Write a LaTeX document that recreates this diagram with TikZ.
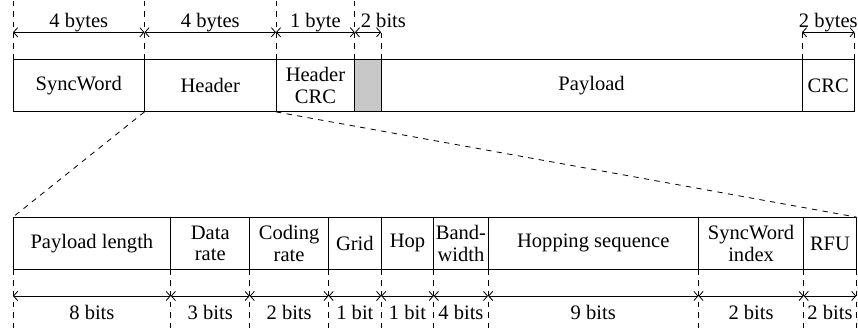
\documentclass[tikz,border=0pt]{standalone}
\usepackage{fontspec}
\setmainfont{Liberation Serif}
\usetikzlibrary{
	arrows.meta,
	positioning
}
\tikzset{
	x=0.9cm,
	y=0.9cm,
	field/.style={
		draw,
		outer sep=0pt,
		inner sep=1pt,
		minimum height=0.9cm,
		align=center,
		font=\fontsize{10}{10.5}\selectfont
	},
	unitw/.style={minimum width=#1*0.9cm},
	guide/.style={dashed,dash pattern=on 2.6pt off 2.6pt},
	dim/.style={
		{Straight Barb[length=2pt,width=4.5pt]}-{Straight Barb[length=2pt,width=4.5pt]}
	},
	dimlabel/.style={text height=1.5ex,text depth=.25ex,inner sep=1.2pt},
	dimbelow/.style={text height=1.5ex,text depth=.25ex,inner sep=4.5pt}
}
\begin{document}
\begin{tikzpicture}
	\useasboundingbox (-0.247,1.127) rectangle (16.065,-5.165);

	% packet
	\node [field,unitw=2.5,anchor=north west] (sw)  at (0,0) {SyncWord};
	\node [field,unitw=2.5,right=0pt of sw]   (hd)  {Header};
	\node [field,unitw=1.5,right=0pt of hd]   (hc)  {Header\\CRC};
	\node [field,unitw=0.5,right=0pt of hc,fill={rgb,255:red,200;green,200;blue,200}] (pad) {};
	\node [field,unitw=8,right=0pt of pad]    (pl)  {Payload};
	\node [field,unitw=1,right=0pt of pl]     (crc) {CRC};

	% header fields
	\node [field,unitw=3,anchor=north west] (len) at (0,-3) {Payload length};
	\node [field,unitw=1.5,right=0pt of len] (dr)   {Data\\rate};
	\node [field,unitw=1.5,right=0pt of dr]  (cr)   {Coding\\rate};
	\node [field,unitw=1,right=0pt of cr]    (grid) {Grid};
	\node [field,unitw=1,right=0pt of grid]  (hop)  {Hop};
	\node [field,unitw=1,right=0pt of hop]   (bw)   {Band-\\width};
	\node [field,unitw=4,right=0pt of bw]    (hs)   {Hopping sequence};
	\node [field,unitw=2,right=0pt of hs]    (swi)  {SyncWord\\index};
	\node [field,unitw=1,right=0pt of swi]   (rfu)  {RFU};

	% zoom
	\draw [guide] (hd.south west) -- (len.north west);
	\draw [guide] (hd.south east) -- (rfu.north east);

	% sizes on top
	\foreach \n in {sw,hd,hc,pad}
		\draw [guide] (\n.north west) -- ++(0,1.127);
	\draw [guide] (pad.north east) -- ++(0,0.513);
	\draw [guide] (crc.north west) -- ++(0,0.513);
	\draw [guide] (crc.north east) -- ++(0,0.513);

	\draw [dim] ([yshift=4.62mm]sw.north west) -- ([yshift=4.62mm]sw.north east)
		node [midway,above,dimlabel] {4 bytes};
	\draw [dim] ([yshift=4.62mm]hd.north west) -- ([yshift=4.62mm]hd.north east)
		node [midway,above,dimlabel] {4 bytes};
	\draw [dim] ([yshift=4.62mm]hc.north west) -- ([yshift=4.62mm]hc.north east)
		node [midway,above,dimlabel] {1 byte};
	\draw [dim] ([yshift=4.62mm]pad.north west) -- ([yshift=4.62mm]pad.north east)
		node [pos=0,above right,dimlabel,xshift=1.5pt] {2 bits};
	\draw [dim] ([yshift=4.62mm]crc.north west) -- ([yshift=4.62mm]crc.north east)
		node [midway,above,dimlabel] {2 bytes};

	% sizes below
	\foreach \n/\b in {len/8 bits,dr/3 bits,cr/2 bits,grid/1 bit,hop/1 bit,bw/4 bits,hs/9 bits,swi/2 bits,rfu/2 bits}{
		\draw [guide] (\n.south west) -- ++(0,-1.165);
		\draw [dim] ([yshift=-4.5mm]\n.south west) -- ([yshift=-4.5mm]\n.south east)
			node [midway,below,dimbelow] {\b};
	}
	\draw [guide] (rfu.south east) -- ++(0,-1.165);
\end{tikzpicture}
\end{document}
